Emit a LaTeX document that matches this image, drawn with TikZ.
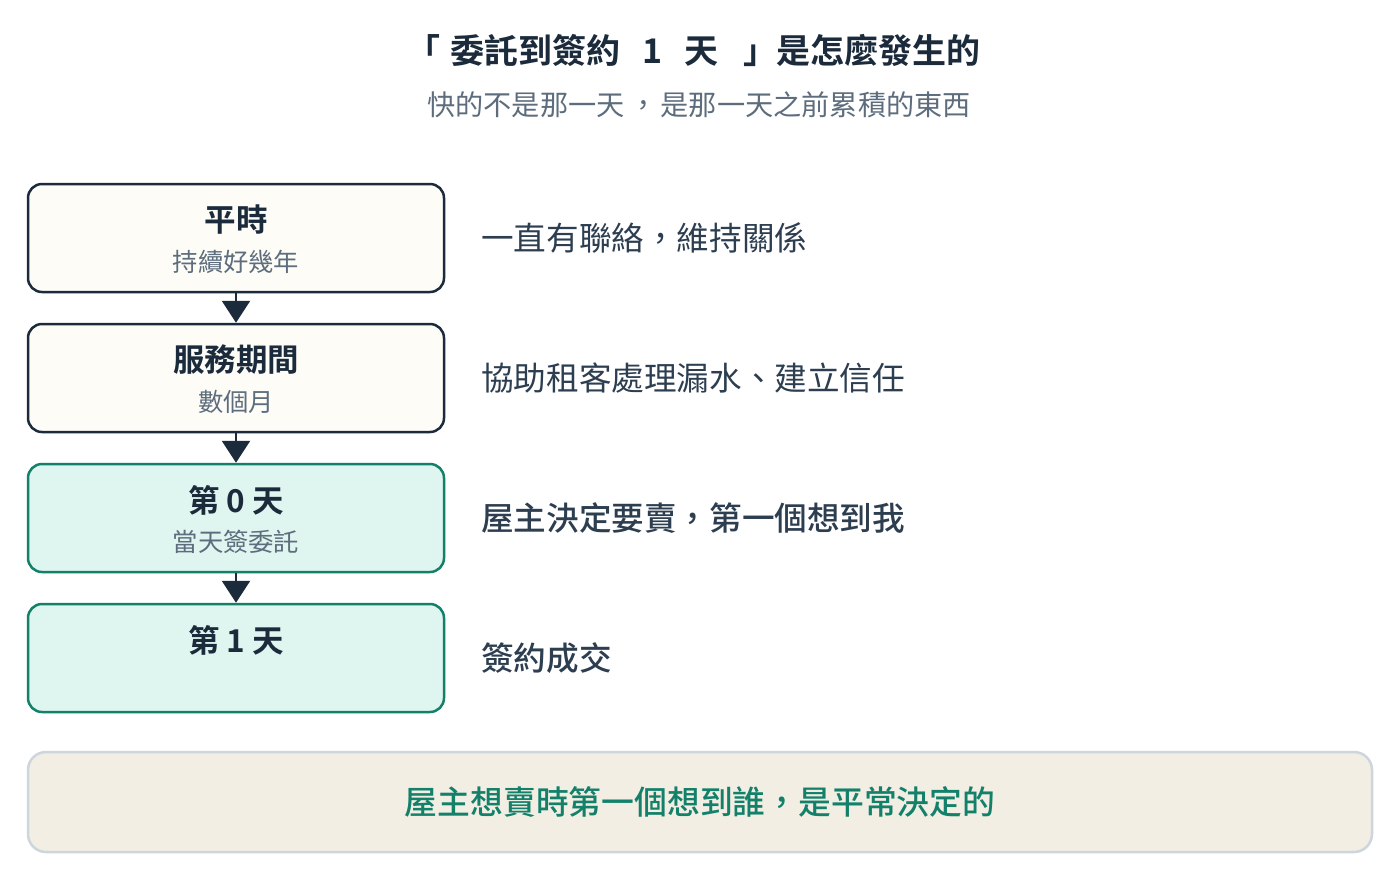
\documentclass[tikz,border=0pt]{standalone}
\usepackage{fontspec}
\setmainfont{Noto Sans CJK TC}[BoldFont={Noto Sans CJK TC Medium}]
\newfontfamily\heavyfont{Noto Sans CJK TC}[UprightFont={* Bold}]
\usetikzlibrary{arrows.meta}
\newcommand\tccomma{\makebox[1em][l]{，}}
\definecolor{navy}{HTML}{1B2B3C}
\definecolor{subgray}{HTML}{5D6D7D}
\definecolor{bodytext}{HTML}{2C3E50}
\definecolor{teal}{HTML}{13806A}
\definecolor{cream}{HTML}{FDFCF7}
\definecolor{mint}{HTML}{DFF5EF}
\definecolor{bannerfill}{HTML}{F2EEE4}
\definecolor{bannerline}{HTML}{CDD5DD}
\tikzset{
  stage/.style={draw=navy, fill=cream, line width=2.5pt, rounded corners=14pt,
    minimum width=416pt, minimum height=108pt, inner sep=0pt},
  stagegreen/.style={stage, draw=teal, fill=mint},
  stagetitle/.style={text=navy, font=\fontsize{31.5pt}{31.5pt}\selectfont\heavyfont, inner sep=0pt},
  stagesub/.style={text=subgray, font=\fontsize{25.3pt}{25.3pt}\selectfont, inner sep=0pt},
  note/.style={text=bodytext, font=\fontsize{32.6pt}{32.6pt}\selectfont, anchor=west, inner sep=0pt},
  notebold/.style={note, font=\fontsize{32.6pt}{32.6pt}\selectfont\bfseries},
  arr/.style={draw=navy, line width=2.5pt, -{Triangle[length=22pt,width=28pt]}},
}
\begin{document}
\begin{tikzpicture}[x=1pt,y=-1pt]
\useasboundingbox[fill=white] (0,0) rectangle (1400,892);
% heading
\node[text=navy, font=\fontsize{34pt}{34pt}\selectfont\heavyfont, inner sep=0pt, anchor=west] (title) at (406,50)
  {「\kern10.6pt委託到簽約\kern22pt1\kern22pt天\kern25pt」\kern-1pt是怎麼發生的};
\node[text=subgray, font=\fontsize{28.2pt}{28.2pt}\selectfont, inner sep=0pt, anchor=west] (subtitle) at (427,105)
  {快的不是那一天\kern5pt，\kern3pt是那一天之前累積的東西};
% stages
\node[stage] (b1) at (236,238) {};
\node[stage] (b2) at (236,378) {};
\node[stagegreen] (b3) at (236,518) {};
\node[stagegreen] (b4) at (236,658) {};
\node[stagetitle] (t1) at (236,220) {平時};
\node[stagesub] (s1) at (236,262) {持續好幾年};
\node[stagetitle] (t2) at (236,360) {服務期間};
\node[stagesub] (s2) at (236,402) {數個月};
\node[stagetitle] (t3) at (236,500) {第 0 天};
\node[stagesub] (s3) at (236,542) {當天簽委託};
\node[stagetitle] (t4) at (236,640) {第 1 天};
% arrows
\draw[arr] (b1.south) -- (b2.north);
\draw[arr] (b2.south) -- (b3.north);
\draw[arr] (b3.south) -- (b4.north);
% notes
\node[note] (n1) at (481,238) {一直有聯絡\tccomma 維持關係};
\node[note] (n2) at (481,378) {協助租客處理漏水、建立信任};
\node[notebold] (n3) at (481,518) {屋主決定要賣\tccomma 第一個想到我};
\node[notebold] (n4) at (481,658) {簽約成交};
% banner
\node[draw=bannerline, fill=bannerfill, line width=2.5pt, rounded corners=18pt,
  minimum width=1344pt, minimum height=100pt, inner sep=0pt] (banner) at (700,802) {};
\node[text=teal, font=\fontsize{32.8pt}{32.8pt}\selectfont\bfseries, inner sep=0pt] (bannertext) at (700,802) {屋主想賣時第一個想到誰\tccomma 是平常決定的};
\end{tikzpicture}
\end{document}
